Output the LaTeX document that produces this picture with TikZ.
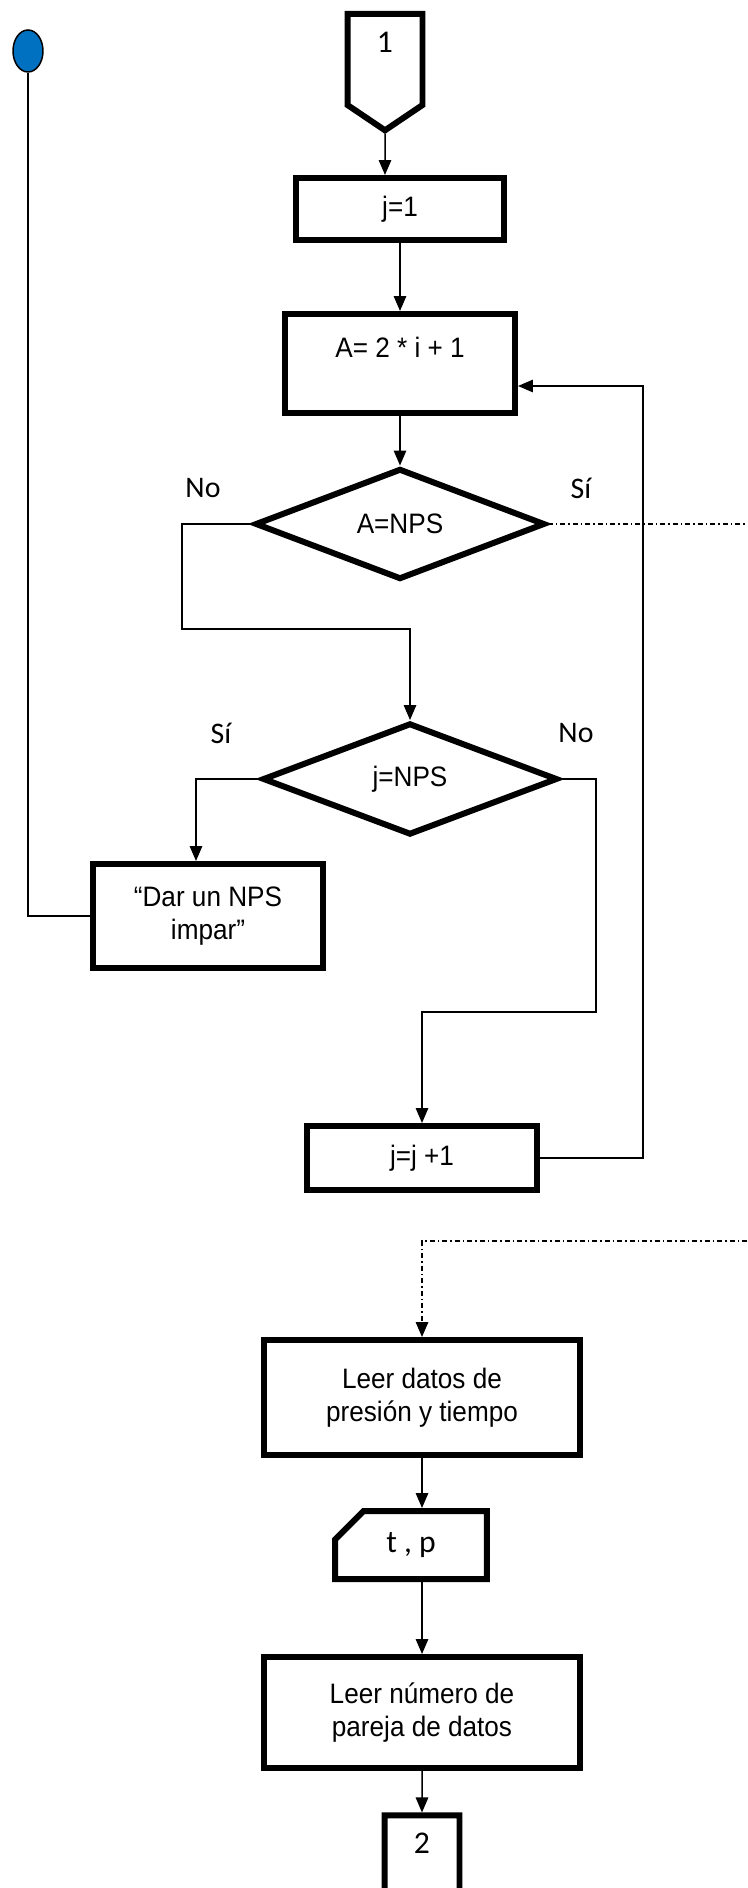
\documentclass[tikz,border=0pt]{standalone}
\usepackage{fontspec}
\newfontfamily\narrowfont{Liberation Sans}[FakeStretch=0.93]
\newfontfamily\califont{Carlito}
\usetikzlibrary{arrows.meta,positioning,shapes.geometric,shapes.symbols,shapes.misc}

\begin{document}
\begin{tikzpicture}[
  x=0.02cm, y=-0.02cm,
  >={Triangle[length=0.3cm,width=0.25cm]},
  box/.style={draw, line width=0.12cm, align=center, inner sep=0pt,
              font=\narrowfont\fontsize{16}{18.5}\selectfont},
  decision/.style={box, diamond, aspect=2.6},
  offpage/.style={draw, line width=0.12cm, signal, signal to=south,
              signal pointer angle=112, inner sep=0pt, align=center,
              minimum width=1.5cm, minimum height=1.93cm,
              font=\califont\fontsize{18}{20}\selectfont},
  card/.style={draw, line width=0.12cm, chamfered rectangle,
              chamfered rectangle corners=north west,
              chamfered rectangle xsep=0.7cm, chamfered rectangle ysep=0.32cm,
              inner sep=0pt, font=\califont\fontsize{18}{20}\selectfont},
  startpt/.style={draw, ellipse, line width=0.03cm, fill={rgb,255:red,0;green,112;blue,192},
              minimum width=0.6cm, minimum height=0.84cm, inner sep=0pt},
  arr/.style={->, line width=0.03cm},
  line/.style={line width=0.03cm},
  dashdot/.style={line width=0.03cm, dash pattern=on 0.1cm off 0.06cm on 0.03cm off 0.06cm},
  lab/.style={font=\califont\fontsize{17}{20}\selectfont},
]
\useasboundingbox (0,0) rectangle (747,1888);

% start of the loop
\node[startpt] (start) at (28,51) {};
\node[offpage] (c1) at (385,59.5) {1\\ \phantom{1}};

% check NPS
\node[box, minimum width=4.18cm, minimum height=1.24cm] (j1) at (400,209) {j=1};
\node[box, minimum width=4.6cm, minimum height=1.98cm] (A) at (400,363.5) {A= 2 * i + 1\\ \phantom{1}};
\node[decision, minimum width=5.8cm, minimum height=2.22cm] (d1) at (400,524) {A=NPS};
\node[decision, minimum width=5.9cm, minimum height=2.24cm] (d2) at (410,779) {j=NPS};
\node[box, minimum width=4.62cm, minimum height=2.08cm] (Dar) at (208,916) {“Dar un NPS\\impar”};
\node[box, minimum width=4.6cm, minimum height=1.28cm] (jj) at (422,1158) {j=j +1};

% labels of the decisions
\node[lab] (no1) at (203,488) {No};
\node[lab] (si1) at (581,488) {Sí};
\node[lab] (si2) at (221,733) {Sí};
\node[lab] (no2) at (576,733) {No};

% read data
\node[box, minimum width=6.32cm, minimum height=2.3cm] (Leer) at (422,1397.5) {Leer datos de\\presión y tiempo};
\node[card, minimum width=3.04cm, minimum height=1.36cm] (tp) at (411,1545) {t , p};
\node[box, minimum width=6.32cm, minimum height=2.22cm] (Leer2) at (422,1712.5) {Leer número de\\pareja de datos};
\node[offpage] (c2) at (422,1861) {2\\ \phantom{2}};

\coordinate (out1) at (747,524);
\coordinate (in2) at (747,1241);

\draw[arr] (c1) -- (c1 |- j1.north);
\draw[arr] (j1) -- (A);
\draw[arr] (A) -- (d1);
\draw[arr] (d1.west) -| (182,629) -| (d2.north);
\draw[arr] (d2.west) -| (196,0 |- Dar.north);
\draw[line] (Dar.west) -| (start.south);
\draw[arr] (d2.east) -| (596,1012) -| (jj.north);
\draw[arr] (jj.east) -| (643,386) -- (A.east |- 0,386);
\draw[dashdot] (d1.east) -- (out1);
\draw[dashdot, ->] (in2) -| (Leer.north);
\draw[arr] (Leer) -- (Leer |- tp.north);
\draw[arr] (tp.south -| Leer) -- (Leer2);
\draw[arr] (Leer2) -- (c2);
\end{tikzpicture}
\end{document}
